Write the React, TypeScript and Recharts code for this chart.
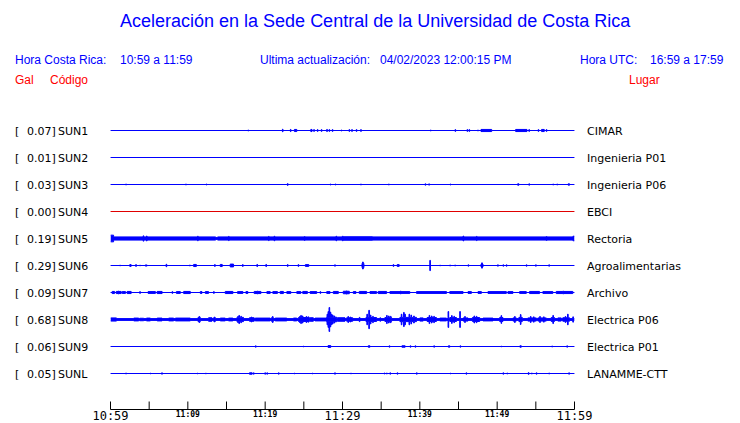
import { ComposedChart, Area, XAxis, YAxis } from "recharts";

const STATIONS = ["SUN1", "SUN2", "SUN3", "SUN4", "SUN5", "SUN6", "SUN7", "SUN8", "SUN9", "SUNL"];
const PLACES = [
  "CIMAR",
  "Ingenieria P01",
  "Ingenieria P06",
  "EBCI",
  "Rectoria",
  "Agroalimentarias",
  "Archivo",
  "Electrica P06",
  "Electrica P01",
  "LANAMME-CTT",
];
const PEAK_GAL = ["0.07", "0.01", "0.03", "0.00", "0.19", "0.29", "0.09", "0.68", "0.06", "0.05"];
const TRACE_COLORS = ["#0000ff", "#0000ff", "#0000ff", "#e00000", "#0000ff", "#0000ff", "#0000ff", "#0000ff", "#0000ff", "#0000ff"];

const TICK_MINUTES = [0, 5, 10, 15, 20, 25, 30, 35, 40, 45, 50, 55, 60];
const TICK_LABELS = ["10:59", "", "11:09", "", "11:19", "", "11:29", "", "11:39", "", "11:49", "", "11:59"];
const MAJOR_LABELS = ["10:59", "11:29", "11:59"];

// Envelopes, in Gal.
// [minute, halfAmplitude] is a short spike, [fromMinute, toMinute, halfAmplitude] a burst.
const SUN1 = [
  [17.77, 0.03], [22.23, 0.07], [23.26, 0.06], [23.78, 24.09, 0.06], [25.9, 26.06, 0.06],
  [26.28, 0.05], [26.75, 0.05], [27.26, 0.05], [27.96, 0.06], [28.26, 0.05], [28.68, 0.05],
  [29.85, 0.03], [30.84, 0.05], [31.19, 0.05], [31.78, 0.05], [32.35, 0.05], [41.38, 0.03],
  [44.55, 0.05], [46.1, 0.05], [46.36, 0.05], [47.48, 0.03], [47.91, 49.29, 0.06],
  [52.39, 53.85, 0.06], [54.1, 0.05], [55.3, 0.05], [55.74, 56.09, 0.06], [56.35, 0.05],
];
const SUN2: number[][] = [];
const SUN3 = [
  [1.97, 0.03], [9.72, 0.03], [12.39, 0.03], [22.88, 0.05], [28.39, 0.03], [29.07, 0.03],
  [32.35, 0.03], [35.96, 0.03], [40.68, 0.04], [41.12, 41.29, 0.03], [43.91, 0.03],
  [52.65, 52.81, 0.04], [54.1, 0.04], [57.2, 0.03], [57.72, 0.03], [59.19, 59.35, 0.04],
];
const SUN4: number[][] = [];
const SUN5 = [
  [0, 13.6, 0.09], [13.6, 13.85, 0.05], [13.85, 29.9, 0.09], [29.9, 33.9, 0.1], [33.9, 60, 0.09],
  [0, 0.4, 0.19], [4.22, 0.15], [4.65, 0.14], [11.26, 0.13], [15.26, 0.12], [20.43, 0.12],
  [21.16, 0.13], [25.07, 0.11], [29.16, 0.13], [30.0, 0.13], [45.59, 0.14], [47.32, 0.12],
  [56.35, 0.11], [59.8, 60, 0.13],
];
const SUN6 = [
  [1.2, 0.02], [2.49, 2.67, 0.05], [3.26, 0.05], [3.78, 0.02], [4.48, 4.74, 0.03], [7.19, 0.07],
  [10.23, 0.03], [10.75, 11.1, 0.06], [13.46, 0.05], [14.19, 14.45, 0.06], [15.48, 15.91, 0.08],
  [17.07, 0.05], [18.93, 0.06], [20.09, 0.06], [22.88, 0.05], [24.26, 0.05], [25.2, 25.64, 0.05],
  [28.99, 0.04], [32.52, 32.77, 0.12], [32.6, 0.2], [36.55, 0.05], [37.07, 37.33, 0.05],
  [41.29, 0.29], [42.58, 0.02], [43.87, 0.03], [44.52, 0.03], [46.23, 0.04], [47.91, 48.17, 0.08],
  [48.0, 0.15], [50.06, 0.04], [50.75, 0.04], [51.19, 0.04], [53.77, 0.04], [54.97, 0.04],
  [56.68, 0.04],
];
const SUN7 = [
  [0.22, 0.52, 0.06], [0.74, 1.38, 0.06], [1.51, 1.94, 0.05], [2.15, 2.67, 0.06], [3.78, 0.05],
  [4.86, 5.81, 0.05], [6.03, 6.67, 0.06], [7.96, 0.05], [8.52, 9.03, 0.05], [9.46, 10.32, 0.06],
  [11.61, 11.83, 0.05], [12.26, 12.68, 0.05], [13.33, 0.05], [14.84, 15.83, 0.06],
  [16.43, 17.12, 0.05], [17.51, 17.77, 0.05], [18.58, 19.45, 0.06], [20.22, 20.65, 0.05],
  [20.99, 21.59, 0.05], [21.94, 22.36, 0.06], [22.8, 23.32, 0.05], [24.09, 24.61, 0.05],
  [24.86, 25.46, 0.06], [25.81, 26.67, 0.05], [27.1, 0.05], [27.96, 28.39, 0.05],
  [28.81, 29.46, 0.06], [30.1, 30.88, 0.07], [31.39, 31.74, 0.05], [32.17, 33.12, 0.06],
  [33.55, 34.41, 0.05], [34.62, 35.7, 0.06], [36.13, 38.71, 0.05], [39.57, 43.45, 0.05],
  [43.87, 45.59, 0.05], [46.23, 46.67, 0.05], [47.52, 47.96, 0.05], [48.81, 51.19, 0.05],
  [51.39, 52.04, 0.05], [52.9, 53.77, 0.05], [54.19, 55.48, 0.06], [55.91, 57.2, 0.05],
  [57.64, 59.78, 0.06], [30.5, 0.09], [1.0, 0.08], [19.0, 0.08], [37.5, 0.08], [58.5, 0.08],
];
const SUN8 = [
  [0, 60, 0.05],
  [0, 0.77, 0.09], [3.01, 3.65, 0.08], [3.78, 4.3, 0.07], [4.65, 5.16, 0.08], [6.03, 6.67, 0.08],
  [7.52, 8.17, 0.08], [8.39, 10.32, 0.08],
  [11.32, 11.61, 0.12], [11.45, 0.17],
  [12.68, 13.12, 0.1], [13.33, 13.55, 0.1], [13.44, 0.14],
  [14.19, 14.84, 0.08], [15.26, 15.83, 0.08],
  [16.35, 17.2, 0.12], [16.45, 0.17], [16.6, 0.23], [16.85, 0.18],
  [17.97, 18.58, 0.1], [18.2, 0.14],
  [18.71, 20.65, 0.08],
  [20.81, 21.07, 0.1], [20.94, 0.17],
  [21.29, 22.8, 0.08], [23.65, 24.09, 0.08],
  [24.3, 25.72, 0.11], [24.45, 0.17], [24.6, 0.23], [24.8, 0.2], [25.3, 0.17], [25.55, 0.15],
  [25.81, 26.23, 0.1],
  [26.45, 27.96, 0.08],
  [27.96, 29.25, 0.13], [28.0, 0.3], [28.13, 0.45], [28.26, 0.68], [28.4, 0.42], [28.55, 0.3],
  [28.7, 0.25], [28.9, 0.2],
  [29.33, 30.32, 0.1], [30.54, 31.32, 0.1], [30.7, 0.17], [31.0, 0.14],
  [32.17, 0.12],
  [33.03, 34.41, 0.11], [33.15, 0.3], [33.4, 0.52], [33.6, 0.25], [33.9, 0.18],
  [34.84, 0.1],
  [35.48, 36.35, 0.11], [35.7, 0.23], [35.95, 0.2], [36.2, 0.18],
  [37.42, 39.57, 0.12], [37.6, 0.3], [37.9, 0.4], [38.05, 0.3], [38.6, 0.3], [38.85, 0.25], [39.2, 0.2],
  [40.0, 40.43, 0.09],
  [40.94, 42.15, 0.11], [41.2, 0.23], [41.5, 0.2], [41.8, 0.18],
  [42.58, 43.45, 0.08],
  [43.65, 0.45], [43.87, 44.74, 0.11], [44.1, 0.22], [44.4, 0.18],
  [45.16, 0.45],
  [45.59, 46.23, 0.09], [45.8, 0.17],
  [46.8, 47.74, 0.11], [47.0, 0.2], [47.3, 0.18],
  [48.17, 49.46, 0.08],
  [50.32, 50.75, 0.11], [50.5, 0.22],
  [52.04, 52.48, 0.09], [52.25, 0.17],
  [52.81, 53.25, 0.12], [53.0, 0.28],
  [53.97, 55.06, 0.09], [54.3, 0.17], [54.7, 0.15],
  [55.26, 56.35, 0.09], [55.5, 0.17], [56.0, 0.15],
  [56.99, 57.42, 0.11], [57.2, 0.23],
  [57.85, 58.28, 0.09],
  [58.49, 59.35, 0.1], [58.8, 0.17], [59.1, 0.3],
  [59.78, 0.15],
];
const SUN9 = [
  [18.75, 0.04], [24.94, 0.02], [28.13, 28.48, 0.05], [33.33, 33.55, 0.04], [36.04, 0.04],
  [37.68, 38.1, 0.04], [38.75, 0.04], [39.39, 0.04], [41.81, 0.04], [43.7, 43.87, 0.04],
  [45.2, 0.04], [50.49, 0.02], [52.94, 53.12, 0.04], [57.07, 0.03], [59.01, 0.04],
];
const SUNL = [
  [1.97, 0.03], [5.16, 0.02], [6.62, 0.04], [11.19, 0.02], [12.3, 0.02], [17.97, 18.32, 0.04],
  [18.49, 0.04], [19.96, 0.04], [20.22, 0.04], [21.72, 0.04], [23.78, 0.02], [26.1, 0.02],
  [28.99, 0.04], [31.06, 0.02], [35.39, 0.03], [35.7, 0.03], [36.13, 0.04], [37.07, 0.04],
  [39.57, 0.04], [43.91, 0.02], [45.97, 0.04], [50.75, 0.04], [51.26, 0.03], [54.03, 0.05],
  [54.45, 0.03], [55.06, 0.04], [56.68, 0.03], [59.26, 0.04],
];
const TRACES = [SUN1, SUN2, SUN3, SUN4, SUN5, SUN6, SUN7, SUN8, SUN9, SUNL];

// layout
const W = 740;
const H = 423;
const TOP = 103.5;
const X_AXIS_H = 13.5;
const ROW_PX = 27;
const GAL_PER_ROW = 1.53;
const PLOT_H = H - TOP - X_AXIS_H;
const Y_MIN = -(PLOT_H / ROW_PX) * GAL_PER_ROW;
const SPIKE_MIN = 0.08;

const baseOf = (i: number) => -(i + 1) * GAL_PER_ROW;

function buildTrace(events: number[][], base: number) {
  const spans = events.map((e) => (e.length === 2 ? [e[0], e[0] + SPIKE_MIN, e[1]] : e));
  const cuts = Array.from(new Set([0, 60, ...spans.flatMap((s) => [s[0], Math.min(60, s[1])])])).sort(
    (a, b) => a - b
  );
  let last = 0;
  return cuts.map((t, k) => {
    let a = last;
    if (k < cuts.length - 1) {
      const mid = (t + cuts[k + 1]) / 2;
      a = 0;
      for (const s of spans) if (s[0] <= mid && mid < s[1]) a = Math.max(a, s[2]);
      last = a;
    }
    return { t, band: [base - a, base + a] };
  });
}

const traceData = TRACES.map((ev, i) => buildTrace(ev, baseOf(i)));
const rowTicks = STATIONS.map((_, i) => baseOf(i));

const StationTick = ({ y, payload }: any) => {
  const i = Math.round(-payload.value / GAL_PER_ROW) - 1;
  return (
    <g fontFamily="DejaVu Sans" fontSize={11} fill="#000">
      <text x={15} y={y} dy={4}>[</text>
      <text x={27} y={y} dy={4}>{PEAK_GAL[i]}]</text>
      <text x={58} y={y} dy={4}>{STATIONS[i]}</text>
      <text x={587} y={y} dy={4}>{PLACES[i]}</text>
    </g>
  );
};

const TimeTick = ({ x, payload }: any) => {
  const label = TICK_LABELS[TICK_MINUTES.indexOf(payload.value)];
  const major = MAJOR_LABELS.includes(label);
  return (
    <text
      x={x}
      y={major ? 420 : 417}
      textAnchor="middle"
      fontFamily="DejaVu Sans Mono"
      fontSize={major ? 12 : 8}
      fontWeight={major ? 400 : 700}
      fill="#000"
    >
      {label}
    </text>
  );
};

const blue = "#0000ff";
const red = "#ff0000";
const txt = (left: number, top: number, color: string, size: number, s: string) => (
  <div
    style={{
      position: "absolute",
      left,
      top,
      color,
      fontSize: size,
      lineHeight: `${size}px`,
      fontFamily: "'Liberation Sans', Arial, sans-serif",
      whiteSpace: "pre",
    }}
  >
    {s}
  </div>
);

export default function App() {
  return (
    <div style={{ position: "absolute", left: 0, top: 0, width: W, height: H, background: "#fff" }}>
      {txt(120, 12, blue, 18, "Aceleración en la Sede Central de la Universidad de Costa Rica")}
      {txt(15, 54, blue, 12, "Hora Costa Rica:")}
      {txt(120, 54, blue, 12, "10:59 a 11:59")}
      {txt(260, 54, blue, 12, "Ultima actualización:")}
      {txt(380, 54, blue, 12, "04/02/2023 12:00:15 PM")}
      {txt(580, 54, blue, 12, "Hora UTC:")}
      {txt(650, 54, blue, 12, "16:59 a 17:59")}
      {txt(15, 74, red, 12, "Gal")}
      {txt(50, 74, red, 12, "Código")}
      {txt(629, 74, red, 12, "Lugar")}
      <ComposedChart width={W} height={H} margin={{ top: TOP, right: 165.5, bottom: 0, left: 0 }}>
        <XAxis
          type="number"
          dataKey="t"
          domain={[0, 60]}
          ticks={TICK_MINUTES}
          interval={0}
          height={X_AXIS_H}
          tickSize={-8}
          stroke="#000"
          tick={<TimeTick />}
          allowDataOverflow
        />
        <YAxis
          type="number"
          domain={[Y_MIN, 0]}
          ticks={rowTicks}
          interval={0}
          width={110.5}
          axisLine={false}
          tickLine={false}
          tick={<StationTick />}
          allowDataOverflow
        />
        {traceData.map((d, i) => (
          <Area
            key={STATIONS[i]}
            data={d}
            dataKey="band"
            type="stepAfter"
            stroke={TRACE_COLORS[i]}
            strokeWidth={1}
            fill={TRACE_COLORS[i]}
            fillOpacity={1}
            dot={false}
            activeDot={false}
            isAnimationActive={false}
          />
        ))}
      </ComposedChart>
    </div>
  );
}
